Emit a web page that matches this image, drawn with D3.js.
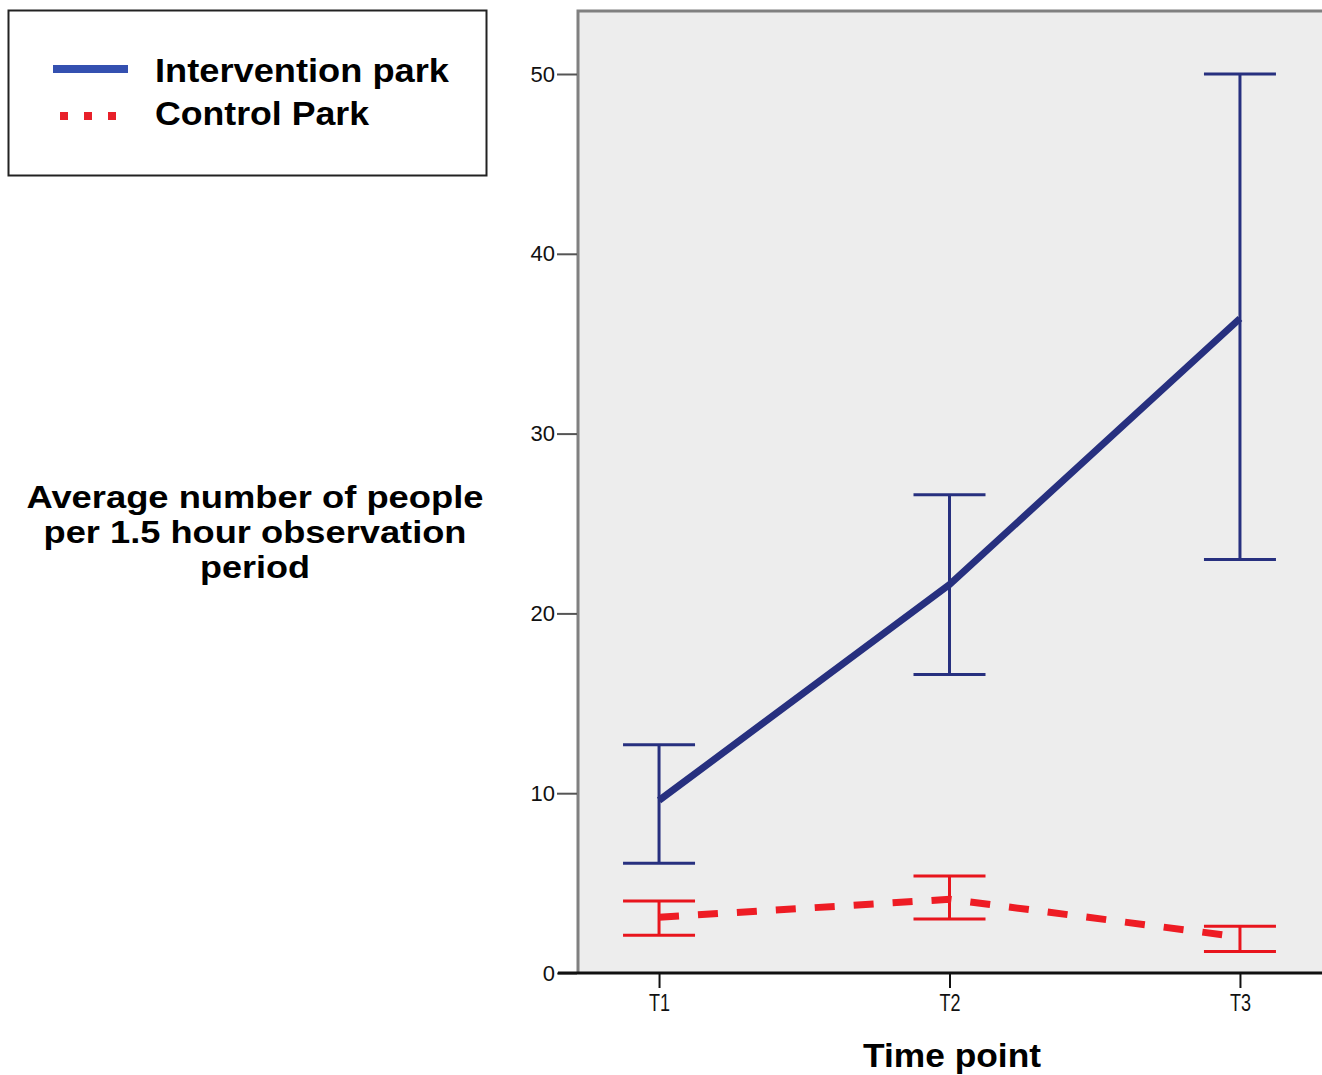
<!DOCTYPE html>
<html>
<head>
<meta charset="utf-8">
<script src="https://cdn.jsdelivr.net/npm/d3@7"></script>
<style>
  html, body { margin: 0; padding: 0; background: #ffffff; }
  svg { display: block; }
</style>
</head>
<body>
<svg id="chart" width="1322" height="1075"></svg>
<script>
// Time points and per-park means with error-bar bounds
const categories = ["T1", "T2", "T3"];
const interventionMean = [9.6, 21.6, 36.4];
const interventionLow = [6.1, 16.6, 23.0];
const interventionHigh = [12.7, 26.6, 50.0];
const controlMean = [3.1, 4.1, 2.0];
const controlLow = [2.1, 3.0, 1.2];
const controlHigh = [4.0, 5.4, 2.6];
const yTicks = [0, 10, 20, 30, 40, 50];
const seriesNames = ["Intervention park", "Control Park"];

const svg = d3.select("#chart");
const plot = { left: 578, top: 11, right: 1321, bottom: 973 };
const sans = "Liberation Sans, Arial, sans-serif";

const x = d3.scalePoint().domain(categories).range([plot.left, plot.right]).padding(0.279);
const y = d3.scaleLinear().domain([0, 50]).range([plot.bottom, 74]);

// plot background
svg.append("rect")
  .attr("x", plot.left).attr("y", plot.top)
  .attr("width", plot.right - plot.left + 10).attr("height", plot.bottom - plot.top)
  .attr("fill", "#ededed");

// frame: left and top edges
svg.append("path")
  .attr("d", `M${plot.left},${plot.bottom} V${plot.top} H${plot.right + 10}`)
  .attr("fill", "none").attr("stroke", "#808080").attr("stroke-width", 3);

// y axis
const yAxis = d3.axisLeft(y).tickValues(yTicks).tickSize(20).tickPadding(2).tickFormat(d3.format("d"));
const yG = svg.append("g").attr("transform", `translate(${plot.left - 1},0)`).call(yAxis);
yG.select(".domain").remove();
yG.selectAll(".tick line").attr("stroke", "#555").attr("stroke-width", 2);
yG.selectAll(".tick text")
  .attr("font-family", sans).attr("font-size", 22).attr("fill", "#111");

// x axis
const xAxis = d3.axisBottom(x).tickSize(15).tickPadding(6);
const xG = svg.append("g").attr("transform", `translate(0,${plot.bottom})`).call(xAxis);
xG.select(".domain").remove();
xG.selectAll(".tick line").attr("stroke", "#111").attr("stroke-width", 2);
xG.selectAll(".tick text")
  .attr("font-family", sans).attr("font-size", 24).attr("fill", "#111")
  .attr("textLength", 21).attr("lengthAdjust", "spacingAndGlyphs");
svg.append("line")
  .attr("x1", plot.left - 20).attr("x2", plot.right + 10)
  .attr("y1", plot.bottom).attr("y2", plot.bottom)
  .attr("stroke", "#111").attr("stroke-width", 3);

// axis titles
svg.append("text")
  .attr("x", 952).attr("y", 1067)
  .attr("text-anchor", "middle")
  .attr("font-family", sans).attr("font-weight", "bold").attr("font-size", 33).attr("fill", "#000")
  .attr("textLength", 178).attr("lengthAdjust", "spacingAndGlyphs")
  .text("Time point");

const yTitle = ["Average number of people", "per 1.5 hour observation", "period"];
const yTitleWidths = [457, 423, 110];
svg.append("g").selectAll("text").data(yTitle).join("text")
  .attr("x", 255).attr("y", (d, i) => 508 + i * 35)
  .attr("text-anchor", "middle")
  .attr("font-family", sans).attr("font-weight", "bold").attr("font-size", 32).attr("fill", "#000")
  .attr("textLength", (d, i) => yTitleWidths[i]).attr("lengthAdjust", "spacingAndGlyphs")
  .text(d => d);

// series drawing
const series = [
  { name: seriesNames[0], mean: interventionMean, low: interventionLow, high: interventionHigh,
    line: "#27307f", bar: "#27307f", dash: null },
  { name: seriesNames[1], mean: controlMean, low: controlLow, high: controlHigh,
    line: "#ee1c24", bar: "#e8151d", dash: "20,19" }
];

const capHalf = 36;
series.forEach(s => {
  const g = svg.append("g");
  const pts = categories.map((c, i) => ({ c, m: s.mean[i], lo: s.low[i], hi: s.high[i] }));
  // error bars
  g.selectAll(".stem").data(pts).join("line")
    .attr("x1", d => x(d.c)).attr("x2", d => x(d.c))
    .attr("y1", d => y(d.lo)).attr("y2", d => y(d.hi))
    .attr("stroke", s.bar).attr("stroke-width", 3);
  ["lo", "hi"].forEach(k => {
    g.selectAll(".cap-" + k).data(pts).join("line")
      .attr("x1", d => x(d.c) - capHalf).attr("x2", d => x(d.c) + capHalf)
      .attr("y1", d => y(d[k])).attr("y2", d => y(d[k]))
      .attr("stroke", s.bar).attr("stroke-width", 3);
  });
  // mean line
  const line = d3.line().x(d => x(d.c)).y(d => y(d.m));
  g.append("path").datum(pts)
    .attr("d", line)
    .attr("fill", "none").attr("stroke", s.line).attr("stroke-width", 7)
    .attr("stroke-dasharray", s.dash);
});

// legend
const lg = svg.append("g");
lg.append("rect").attr("x", 8.5).attr("y", 10.5).attr("width", 478).attr("height", 165)
  .attr("fill", "#fff").attr("stroke", "#222").attr("stroke-width", 2);
lg.append("line").attr("x1", 53).attr("x2", 128).attr("y1", 69).attr("y2", 69)
  .attr("stroke", "#3450b0").attr("stroke-width", 8);
lg.append("line").attr("x1", 60).attr("x2", 124).attr("y1", 116).attr("y2", 116)
  .attr("stroke", "#e8202a").attr("stroke-width", 8).attr("stroke-dasharray", "8,16");
const legendWidths = [294, 214];
lg.selectAll("text").data(seriesNames).join("text")
  .attr("x", 155).attr("y", (d, i) => 82 + i * 43)
  .attr("font-family", sans).attr("font-weight", "bold").attr("font-size", 34).attr("fill", "#000")
  .attr("textLength", (d, i) => legendWidths[i]).attr("lengthAdjust", "spacingAndGlyphs")
  .text(d => d);
</script>
</body>
</html>
